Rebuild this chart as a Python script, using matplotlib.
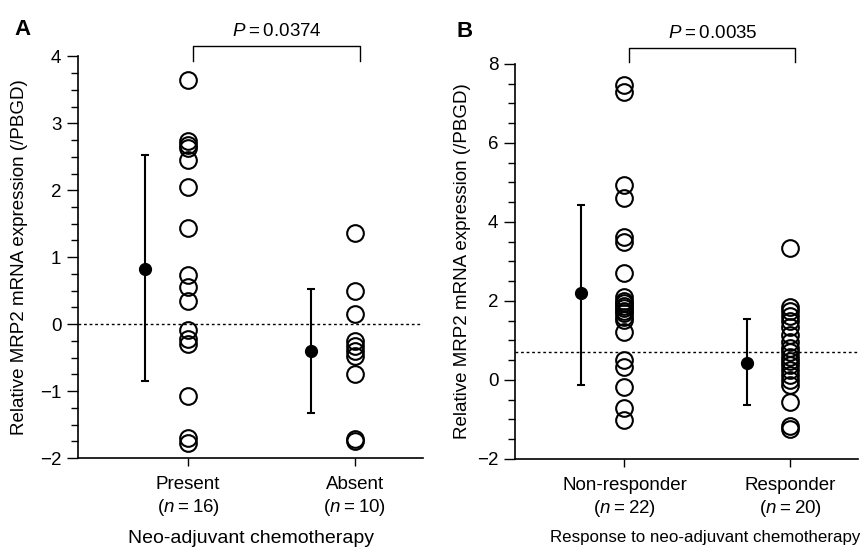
import numpy as np
import matplotlib
matplotlib.use("Agg")
import matplotlib.pyplot as plt
from matplotlib.ticker import MultipleLocator

plt.rcParams["font.family"] = ["Liberation Sans", "DejaVu Sans"]
plt.rcParams["mathtext.fontset"] = "custom"
plt.rcParams["mathtext.rm"] = "Liberation Sans"
plt.rcParams["mathtext.it"] = "Liberation Sans:italic"

# ---------------------------------------------------------------------------
# Data
# ---------------------------------------------------------------------------
a_groups = ["Present", "Absent"]
a_n = [16, 10]
a_present = [3.65, 2.73, 2.68, 2.63, 2.45, 2.05, 1.43, 0.74, 0.56, 0.35,
             -0.08, -0.22, -0.30, -1.07, -1.70, -1.78]
a_absent = [1.36, 0.49, 0.15, -0.25, -0.33, -0.40, -0.48, -0.75, -1.72, -1.75]
a_mean = [0.82, -0.40]
a_low = [-0.85, -1.33]
a_high = [2.52, 0.52]
a_ref = 0.0
a_p = "0.0374"

b_groups = ["Non-responder", "Responder"]
b_n = [22, 20]
b_nonresp = [7.47, 7.29, 4.94, 4.61, 3.62, 3.49, 2.71, 2.10, 2.00, 1.95,
             1.88, 1.82, 1.75, 1.70, 1.60, 1.52, 1.22, 0.51, 0.33, -0.18,
             -0.71, -1.01]
b_resp = [3.34, 1.85, 1.75, 1.62, 1.50, 1.35, 1.14, 0.96, 0.80, 0.70,
          0.58, 0.48, 0.38, 0.25, 0.12, 0.00, -0.13, -0.56, -1.17, -1.25]
b_mean = [2.20, 0.43]
b_low = [-0.13, -0.63]
b_high = [4.43, 1.54]
b_ref = 0.71
b_p = "0.0035"

# ---------------------------------------------------------------------------
# Figure
# ---------------------------------------------------------------------------
fig = plt.figure(figsize=(8.67, 5.52), dpi=100)
ax_a = fig.add_axes([0.090, 0.170, 0.398, 0.728])
ax_b = fig.add_axes([0.594, 0.1685, 0.396, 0.716])

off = 0.26
ts = "\u2009"  # thin space around '='


def panel(ax, groups, ns, values, mean, low, high, ref, ylim, minor,
          xlabel, xlabel_size, pval, br_y, letter, letter_xy):
    xs = np.arange(1, len(groups) + 1)
    for x, vals in zip(xs, values):
        ax.plot([x] * len(vals), vals, "o", ms=12, mfc="none", mec="black",
                mew=1.5, clip_on=False, zorder=3)
    ax.errorbar(xs - off, mean, yerr=[np.subtract(mean, low),
                                      np.subtract(high, mean)],
                fmt="o", color="black", ms=8.5, elinewidth=1.5, capsize=3,
                capthick=1.5, zorder=4)
    ax.axhline(ref, color="black", lw=1.0, ls=(0, (2, 2)), zorder=1)

    ax.set_xlim(0.34, 2.41)
    ax.set_ylim(*ylim)
    ax.yaxis.set_minor_locator(MultipleLocator(minor))
    ax.set_xticks(xs)
    ax.set_xticklabels([f"{g}\n($n${ts}={ts}{n})" for g, n in zip(groups, ns)],
                       fontsize=13.5, linespacing=1.25)
    ax.tick_params(axis="y", which="major", length=8, width=1,
                   labelsize=13.5, pad=4)
    ax.tick_params(axis="y", which="minor", length=5, width=1)
    ax.tick_params(axis="x", length=6, width=1, pad=7)
    for s in ("top", "right"):
        ax.spines[s].set_visible(False)
    for s in ("left", "bottom"):
        ax.spines[s].set_linewidth(1.2)
    ax.set_xlabel(xlabel, fontsize=xlabel_size)
    ax.set_ylabel("Relative MRP2 mRNA expression (/PBGD)", fontsize=13.5)

    # significance bracket
    x0, x1 = xs[0] + 0.03, xs[1] + 0.03
    top, leg = br_y
    ax.plot([x0, x0, x1, x1], [leg, top, top, leg], color="black", lw=1.0,
            clip_on=False)
    ax.text((x0 + x1) / 2, top + (ylim[1] - ylim[0]) * 0.015,
            f"$P${ts}={ts}{pval}", ha="center", va="bottom", fontsize=13.5)
    ax.text(letter_xy[0], letter_xy[1], letter, transform=ax.transAxes,
            fontsize=16, fontweight="bold", ha="left", va="bottom")


panel(ax_a, a_groups, a_n, [a_present, a_absent], a_mean, a_low, a_high,
      a_ref, (-2, 4), 0.25, "Neo-adjuvant chemotherapy", 14.0, a_p,
      (4.15, 3.93), "A", (-0.183, 1.04))
panel(ax_b, b_groups, b_n, [b_nonresp, b_resp], b_mean, b_low, b_high,
      b_ref, (-2, 8), 0.5, "Response to neo-adjuvant chemotherapy", 12.2,
      b_p, (8.40, 8.05), "B", (-0.169, 1.055))
ax_a.xaxis.set_label_coords(0.5, -0.178)
ax_b.xaxis.set_label_coords(0.553, -0.18)
ax_a.yaxis.set_label_coords(-0.145, 0.5)
ax_b.yaxis.set_label_coords(-0.128, 0.5)

fig.savefig("out.png", dpi=100, facecolor="white")
